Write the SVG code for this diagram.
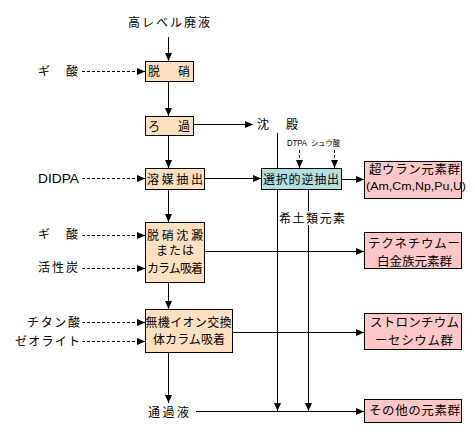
<svg xmlns="http://www.w3.org/2000/svg" width="475" height="434" viewBox="0 0 475 434">
<style>
text{font-family:"Noto Sans CJK JP","Noto Sans",sans-serif;font-size:12px;fill:#000}
.lat{font-family:"Liberation Sans","DejaVu Sans",sans-serif}
.box{stroke:#000;stroke-width:1}
.peach{fill:#ffe0c0}
.pink{fill:#ffc8c8}
.cyan{fill:#b0e0e0}
.ln{stroke:#000;stroke-width:1;fill:none}
.ds{stroke:#000;stroke-width:1;fill:none;stroke-dasharray:3 2}
.arr{marker-end:url(#ah)}
</style>
<defs>
<marker id="ah" markerUnits="userSpaceOnUse" markerWidth="9" markerHeight="8" refX="8" refY="4" orient="auto" viewBox="0 0 9 8">
<path d="M0,0.5 L8,4 L0,7.5 z" fill="#000"/>
</marker>
</defs>
<rect width="475" height="434" fill="#fff"/>
<g id="connectors">
<line class="ln arr" x1="168.5" y1="37" x2="168.5" y2="61"/>
<line class="ln arr" x1="168.5" y1="81" x2="168.5" y2="116"/>
<line class="ln arr" x1="168.5" y1="135" x2="168.5" y2="168"/>
<line class="ln arr" x1="168.5" y1="189" x2="168.5" y2="222"/>
<line class="ln arr" x1="168.5" y1="282" x2="168.5" y2="309"/>
<line class="ln arr" x1="168.5" y1="352" x2="168.5" y2="403"/>
<line class="ln arr" x1="193" y1="124.5" x2="253" y2="124.5"/>
<line class="ln arr" x1="204" y1="178.5" x2="261" y2="178.5"/>
<line class="ln arr" x1="341" y1="179.5" x2="364" y2="179.5"/>
<line class="ln arr" x1="204" y1="251.5" x2="364" y2="251.5"/>
<line class="ln arr" x1="232" y1="332.5" x2="364" y2="332.5"/>
<line class="ln arr" x1="196" y1="411.5" x2="364" y2="411.5"/>
<line class="ln arr" x1="277.5" y1="133" x2="277.5" y2="411"/>
<line class="ln arr" x1="308.5" y1="189" x2="308.5" y2="411"/>
<line class="ds arr" x1="299.5" y1="150" x2="299.5" y2="168"/>
<line class="ds arr" x1="334.5" y1="150" x2="334.5" y2="168"/>
<line class="ds arr" x1="82" y1="71.5" x2="145" y2="71.5"/>
<line class="ds arr" x1="82" y1="178.5" x2="145" y2="178.5"/>
<line class="ds arr" x1="82" y1="235.5" x2="145" y2="235.5"/>
<line class="ds arr" x1="82" y1="268.5" x2="145" y2="268.5"/>
<line class="ds arr" x1="82" y1="322.5" x2="145" y2="322.5"/>
<line class="ds arr" x1="82" y1="341.5" x2="145" y2="341.5"/>
</g>
<g id="labels">
<text x="128" y="27" textLength="82" lengthAdjust="spacing">高レベル廃液</text>
<text x="38" y="76" textLength="40" lengthAdjust="spacing">ギ　酸</text>
<text x="257" y="129" textLength="41" lengthAdjust="spacing">沈　殿</text>
<text class="lat" x="287" y="146" style="font-size:9px" textLength="20" lengthAdjust="spacingAndGlyphs">DTPA</text>
<text x="311" y="146" style="font-size:8px" textLength="29" lengthAdjust="spacingAndGlyphs">シュウ酸</text>
<text class="lat" x="38" y="183" style="font-size:13px" textLength="41" lengthAdjust="spacingAndGlyphs">DIDPA</text>
<text x="38" y="239" textLength="40" lengthAdjust="spacing">ギ　酸</text>
<text x="38" y="272" textLength="40" lengthAdjust="spacing">活性炭</text>
<text x="27" y="327" textLength="53" lengthAdjust="spacing">チタン酸</text>
<text x="15" y="346" textLength="65" lengthAdjust="spacing">ゼオライト</text>
<text x="148" y="417" textLength="41" lengthAdjust="spacing">通過液</text>
<rect x="279" y="211" width="67" height="14" fill="#fff"/>
<text x="279" y="223" textLength="66" lengthAdjust="spacing">希土類元素</text>
</g>
<g id="n-dessho">
<rect class="box peach" x="145.5" y="61.5" width="48" height="20"/>
<text x="148" y="76" textLength="42" lengthAdjust="spacing">脱　硝</text>
</g>
<g id="n-roka">
<rect class="box peach" x="145.5" y="116.5" width="48" height="19"/>
<text x="148" y="130.5" textLength="42" lengthAdjust="spacing">ろ　過</text>
</g>
<g id="n-yobai">
<rect class="box peach" x="145.5" y="168.5" width="59" height="21"/>
<text x="147" y="183.5" textLength="56" lengthAdjust="spacing">溶媒抽出</text>
</g>
<g id="n-sentaku">
<rect class="box cyan" x="261.5" y="168.5" width="80" height="21"/>
<text x="263" y="183.5" textLength="76" lengthAdjust="spacing">選択的逆抽出</text>
</g>
<g id="n-chouuran">
<rect class="box pink" x="364.5" y="161.5" width="97" height="37"/>
<text x="369" y="174" style="font-size:12.5px" textLength="91" lengthAdjust="spacing">超ウラン元素群</text>
<text class="lat" x="366" y="190" style="font-size:11px" textLength="100" lengthAdjust="spacingAndGlyphs">(Am,Cm,Np,Pu,U)</text>
</g>
<g id="n-dessho-chinden">
<rect class="box peach" x="145.5" y="222.5" width="59" height="60"/>
<text x="147" y="239.5" textLength="56" lengthAdjust="spacing">脱硝沈澱</text>
<text x="156" y="255" textLength="38" lengthAdjust="spacing">または</text>
<text x="147" y="272.5" textLength="56" lengthAdjust="spacing">カラム吸着</text>
</g>
<g id="n-tekunechiumu">
<rect class="box pink" x="364.5" y="232.5" width="97" height="36"/>
<text x="368" y="247.5" style="font-size:12.5px" textLength="92" lengthAdjust="spacing">テクネチウムー</text>
<text x="377" y="265.5" style="font-size:12.5px" textLength="75" lengthAdjust="spacing">白金族元素群</text>
</g>
<g id="n-muki">
<rect class="box peach" x="145.5" y="309.5" width="87" height="43"/>
<text x="145.5" y="326.5" textLength="86" lengthAdjust="spacing">無機イオン交換</text>
<text x="153" y="343.5" textLength="72" lengthAdjust="spacing">体カラム吸着</text>
</g>
<g id="n-sutoronchiumu">
<rect class="box pink" x="364.5" y="313.5" width="97" height="36"/>
<text x="370" y="327" style="font-size:12.5px" textLength="89" lengthAdjust="spacing">ストロンチウム</text>
<text x="375" y="345" style="font-size:12.5px" textLength="78" lengthAdjust="spacing">ーセシウム群</text>
</g>
<g id="n-sonota">
<rect class="box pink" x="364.5" y="399.5" width="97" height="23"/>
<text x="369" y="415" style="font-size:12.5px" textLength="91" lengthAdjust="spacing">その他の元素群</text>
</g>
</svg>
